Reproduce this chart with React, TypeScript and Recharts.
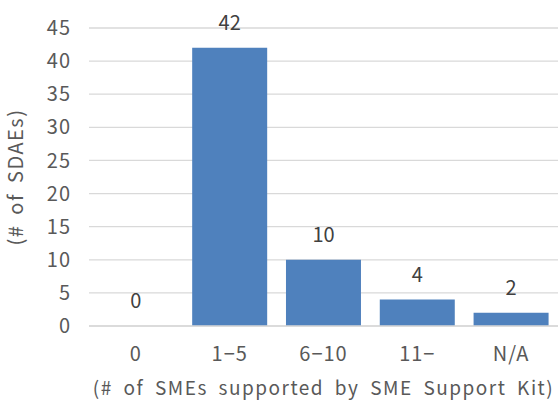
import React from "react";
import { Bar, CartesianGrid, ComposedChart, LabelList, Line, XAxis, YAxis } from "recharts";

const categories = ["0", "1−5", "6−10", "11−", "N/A"];
const counts = [0, 42, 10, 4, 2];
const yTicks = [0, 5, 10, 15, 20, 25, 30, 35, 40, 45];

const data = categories.map((name, i) => ({ name, count: counts[i] }));

const FONT = "'Noto Sans CJK JP', 'Noto Sans', sans-serif";
const INK = "#595959";
const tickStyle = { fill: INK, fontSize: 20, fontFamily: FONT, letterSpacing: 1 };
const titleStyle = { fill: INK, fontSize: 19, fontFamily: FONT, letterSpacing: 1.5, wordSpacing: 5 };

export default function App() {
  return (
    <div style={{ position: "absolute", left: 0, top: 0, width: 558, height: 400, background: "#fff", fontFamily: FONT }}>
      <ComposedChart
        width={558}
        height={400}
        data={data}
        margin={{ top: 28, right: 0, bottom: 0, left: 0 }}
        barCategoryGap="10%"
      >
        <CartesianGrid vertical={false} stroke="#d9d9d9" strokeWidth={1.3} />
        <XAxis
          dataKey="name"
          height={74}
          axisLine={{ stroke: "#d9d9d9", strokeWidth: 1.3 }}
          tickLine={false}
          tick={tickStyle}
          tickMargin={15}
          label={{
            value: "(# of SMEs supported by SME Support Kit)",
            position: "insideBottom",
            offset: 5,
            style: titleStyle,
          }}
        />
        <YAxis
          width={89}
          domain={[0, 45]}
          ticks={yTicks}
          axisLine={false}
          tickLine={false}
          tick={tickStyle}
          tickMargin={12}
          label={{
            value: "(# of SDAEs)",
            angle: -90,
            position: "insideLeft",
            offset: 20,
            dx: -4,
            style: { ...tickStyle, letterSpacing: 1.5, wordSpacing: 4, textAnchor: "middle" },
          }}
        />
        <Bar dataKey="count" fill="#4f81bd" isAnimationActive={false} />
        {/* invisible line carries the value labels so the zero category gets one too */}
        <Line
          dataKey="count"
          stroke="none"
          dot={false}
          activeDot={false}
          legendType="none"
          isAnimationActive={false}
        >
          <LabelList dataKey="count" position="top" offset={18} fill="#404040" fontSize={20} fontFamily={FONT} />
        </Line>
      </ComposedChart>
    </div>
  );
}
